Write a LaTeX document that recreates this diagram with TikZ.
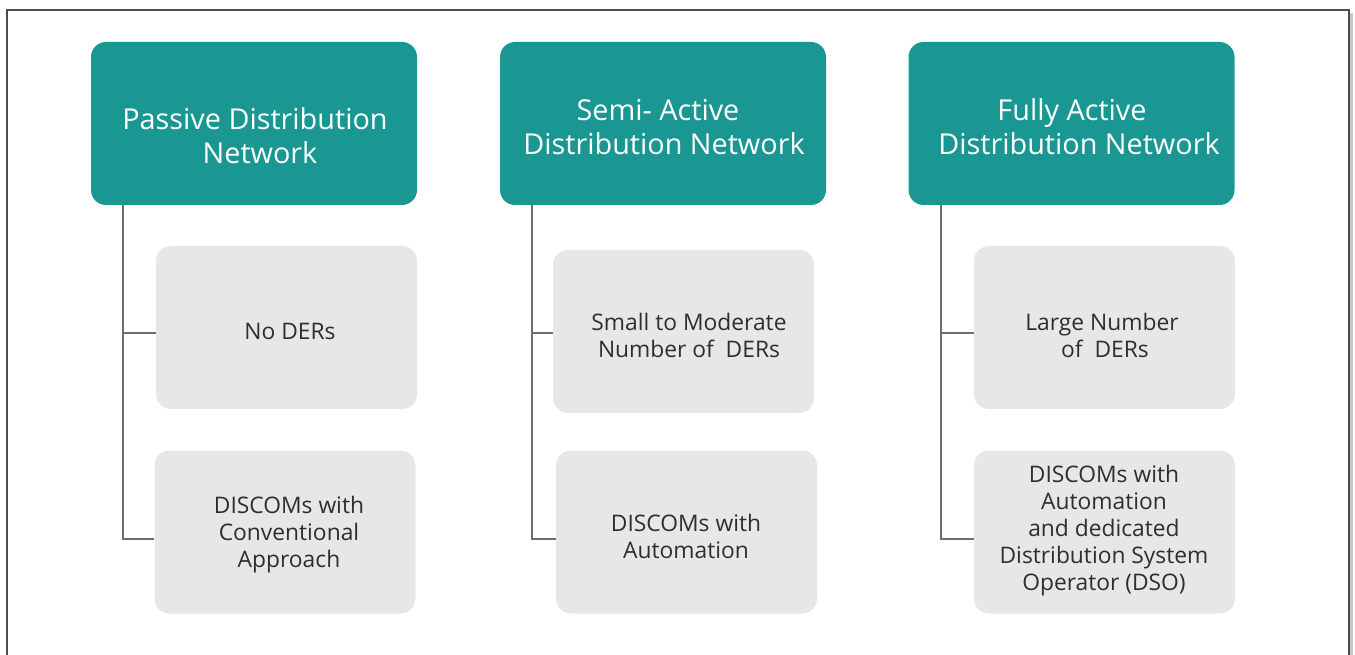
\documentclass[tikz,border=0pt]{standalone}
\usepackage{fontspec}
\setmainfont{Open Sans}
\definecolor{teal}{HTML}{1B9793}
\definecolor{boxgray}{HTML}{E6E7E8}
\definecolor{linegray}{HTML}{6D6E71}
\definecolor{textgray}{HTML}{2E2E30}
\definecolor{framegray}{HTML}{4D4D4F}
\tikzset{
  header/.style={fill=teal, draw=none, rounded corners=15pt, minimum width=326pt, minimum height=163pt, inner sep=0pt},
  headtext/.style={text=white, align=center, font=\fontsize{28.8}{34}\selectfont, inner sep=0pt},
  item/.style={fill=boxgray, draw=none, rounded corners=15pt, minimum width=261pt, minimum height=163pt, inner sep=0pt},
  itemtext/.style={text=textgray, align=center, font=\fontsize{22.8}{27}\selectfont, inner sep=0pt},
  link/.style={draw=linegray, line width=2pt}
}
\begin{document}
\begin{tikzpicture}[x=1pt, y=-1pt]
\useasboundingbox (0,0) rectangle (1355,655);
% outer frame with a soft shadow on the right
\fill[gray!45] (1349,13) rectangle (1353,660);
\draw[framegray, line width=2pt] (7,10) rectangle (1349,670);

% column headers
\node[header] (h1) at (254,123.5) {};
\node[header] (h2) at (663,123.5) {};
\node[header] (h3) at (1071.5,123.5) {};
\node[headtext] (h1t) at (255,136) {Passive Distribution\\\hspace*{10pt}Network};
\node[headtext] (h2t) at (664,127) {Semi- Active\hspace*{12pt}\\Distribution Network};
\node[headtext] (h3t) at (1079,127) {Fully Active\hspace*{14pt}\\Distribution Network};

% item boxes
\node[item] (a1) at (286.5,327.5) {};
\node[item] (b1) at (285,532) {};
\node[item] (a2) at (683.5,331.5) {};
\node[item] (b2) at (686.5,532) {};
\node[item] (a3) at (1104.5,327.5) {};
\node[item] (b3) at (1104.5,532) {};

\node[itemtext] (a1t) at (290,331) {No DERs};
\node[itemtext] (b1t) at (289,535) {DISCOMs with\\Conventional\\Approach};
\node[itemtext] (a2t) at (689,335.5) {Small to Moderate\\Number of~ DERs};
\node[itemtext] (b2t) at (686,536.5) {DISCOMs with\\Automation};
\node[itemtext] (a3t) at (1102,335.5) {Large Number\\\hspace*{6pt}of~ DERs};
\node[itemtext] (b3t) at (1104,531) {DISCOMs with\\Automation\\and dedicated\\Distribution System\\Operator (DSO)};

% connector junctions
\coordinate (s1) at (123,205);
\coordinate (s2) at (532,205);
\coordinate (s3) at (941,205);
\coordinate (j1a) at (123,333);
\coordinate (j1b) at (123,539);
\coordinate (j2a) at (532,333);
\coordinate (j2b) at (532,539);
\coordinate (j3a) at (941,333);
\coordinate (j3b) at (941,539);

% connectors
\draw[link] (s1) -- (j1b) -- (j1b -| b1.west);
\draw[link] (j1a) -- (j1a -| a1.west);
\draw[link] (s2) -- (j2b) -- (j2b -| b2.west);
\draw[link] (j2a) -- (j2a -| a2.west);
\draw[link] (s3) -- (j3b) -- (j3b -| b3.west);
\draw[link] (j3a) -- (j3a -| a3.west);
\end{tikzpicture}
\end{document}
